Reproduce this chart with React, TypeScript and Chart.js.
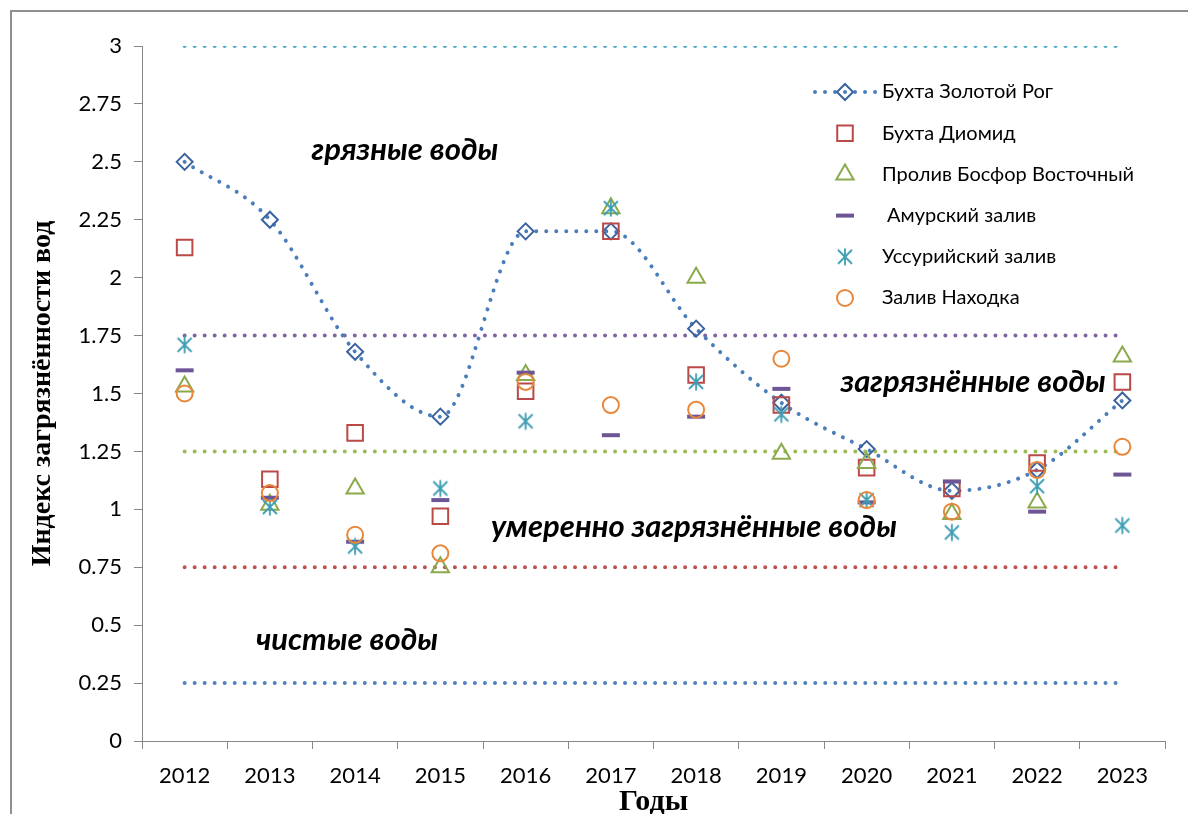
import React, { useEffect, useRef } from 'react';
import { Chart, registerables } from 'chart.js';
import { drawPoint } from 'chart.js/helpers';

Chart.register(...registerables);

// ---------- data ----------
const YEARS = ['2012', '2013', '2014', '2015', '2016', '2017', '2018', '2019', '2020', '2021', '2022', '2023'];
const ZOLOTOY_ROG = [2.5, 2.25, 1.68, 1.4, 2.2, 2.2, 1.78, 1.46, 1.26, 1.08, 1.17, 1.47];
const DIOMID = [2.13, 1.13, 1.33, 0.97, 1.51, 2.2, 1.58, 1.45, 1.18, 1.09, 1.2, 1.55];
const BOSFOR = [1.53, 1.02, 1.09, 0.75, 1.58, 2.3, 2.0, 1.24, 1.2, 0.98, 1.03, 1.66];
const AMUR = [1.6, 1.05, 0.86, 1.04, 1.59, 1.32, 1.4, 1.52, 1.03, 1.12, 0.99, 1.15];
const USSURI = [1.71, 1.01, 0.84, 1.09, 1.38, 2.3, 1.55, 1.41, 1.04, 0.9, 1.1, 0.93];
const NAKHODKA = [1.5, 1.07, 0.89, 0.81, 1.55, 1.45, 1.43, 1.65, 1.04, 0.99, 1.17, 1.27];
const THRESHOLDS = [3, 1.75, 1.25, 0.75, 0.25];
const Y_TICKS = [0, 0.25, 0.5, 0.75, 1, 1.25, 1.5, 1.75, 2, 2.25, 2.5, 2.75, 3];
const SERIES_NAMES = [
  'Бухта Золотой Рог',
  'Бухта Диомид',
  'Пролив Босфор Восточный',
  ' Амурский залив',
  'Уссурийский залив',
  'Залив Находка',
];
const ZONE_LABELS = ['грязные воды', 'загрязнённые воды', 'умеренно загрязнённые воды', 'чистые воды'];

// ---------- styles ----------
const THRESHOLD_COLORS = ['#4BACC6', '#8064A2', '#9BBB59', '#C0504D', '#4F81BD'];
const ZONE_POS = [
  { x: 2.585, y: 2.55 },
  { x: 9.25, y: 1.55 },
  { x: 5.975, y: 0.925 },
  { x: 1.905, y: 0.437 },
];
const DOT_DASH = [0.01, 10];
const TICK_FONT = 'Lato';

function makeAsterisk(color: string): HTMLCanvasElement {
  const c = document.createElement('canvas');
  c.width = 20;
  c.height = 20;
  const g = c.getContext('2d')!;
  g.strokeStyle = color;
  g.lineWidth = 1.8;
  g.lineCap = 'butt';
  g.beginPath();
  g.moveTo(10, 1.5);
  g.lineTo(10, 18.5);
  g.moveTo(3, 3);
  g.lineTo(17, 17);
  g.moveTo(17, 3);
  g.lineTo(3, 17);
  g.stroke();
  return c;
}

const legendPlugin = {
  id: 'customLegend',
  afterDraw(chart: any) {
    const ctx = chart.ctx as CanvasRenderingContext2D;
    const markerX = 845;
    const textX = 882;
    const y0 = 92;
    const step = 41.2;
    ctx.save();
    SERIES_NAMES.forEach((name, i) => {
      const ds = chart.data.datasets[i];
      const y = y0 + i * step;
      if (i === 0) {
        ctx.save();
        ctx.strokeStyle = ds.borderColor;
        ctx.lineWidth = ds.borderWidth;
        ctx.lineCap = 'round';
        ctx.setLineDash(DOT_DASH);
        ctx.beginPath();
        ctx.moveTo(815, y);
        ctx.lineTo(876, y);
        ctx.stroke();
        ctx.restore();
      }
      ctx.save();
      ctx.strokeStyle = ds.pointBorderColor;
      ctx.fillStyle = 'rgba(0,0,0,0)';
      ctx.lineWidth = ds.pointBorderWidth;
      drawPoint(
        ctx,
        { pointStyle: ds.pointStyle, radius: ds.pointRadius, rotation: 0, borderWidth: ds.pointBorderWidth } as any,
        markerX,
        y
      );
      ctx.restore();
      ctx.fillStyle = '#000';
      ctx.font = `20px ${TICK_FONT}`;
      ctx.textAlign = 'left';
      ctx.textBaseline = 'middle';
      ctx.fillText(name, textX, y);
    });
    ctx.restore();
  },
};

const zonePlugin = {
  id: 'zoneLabels',
  afterDatasetsDraw(chart: any) {
    const ctx = chart.ctx as CanvasRenderingContext2D;
    const xs = chart.scales.x;
    const ys = chart.scales.y;
    ctx.save();
    ctx.fillStyle = '#000';
    ctx.font = `italic bold 31px ${TICK_FONT}`;
    ctx.textAlign = 'center';
    ctx.textBaseline = 'middle';
    ZONE_LABELS.forEach((t, i) => {
      const p = ZONE_POS[i];
      ctx.fillText(t, xs.getPixelForValue(p.x), ys.getPixelForValue(p.y));
    });
    ctx.restore();
  },
};

export default function App() {
  const ref = useRef<HTMLCanvasElement | null>(null);

  useEffect(() => {
    document.body.style.margin = '0';
    const canvas = ref.current!;
    const n = SERIES_NAMES.length;
    const asterisk = makeAsterisk('#3C9DB3');

    const thresholdSets = THRESHOLDS.map((v, i) => ({
      label: 'threshold ' + v,
      data: [
        { x: YEARS[0], y: v },
        { x: YEARS[YEARS.length - 1], y: v },
      ],
      borderColor: THRESHOLD_COLORS[i],
      borderWidth: 4,
      borderDash: DOT_DASH,
      borderCapStyle: 'round' as const,
      pointRadius: 0,
      fill: false,
      order: 100,
    }));

    const chart = new Chart(canvas, {
      type: 'line',
      data: {
        labels: YEARS,
        datasets: [
          {
            label: SERIES_NAMES[0],
            data: ZOLOTOY_ROG,
            borderColor: '#4A7EBB',
            borderWidth: 4,
            borderDash: DOT_DASH,
            borderCapStyle: 'round',
            cubicInterpolationMode: 'monotone',
            pointStyle: 'rectRot',
            pointRadius: 8,
            pointBorderWidth: 2,
            pointBorderColor: '#3A63A0',
            pointBackgroundColor: 'rgba(0,0,0,0)',
            order: n - 0,
          },
          {
            label: SERIES_NAMES[1],
            data: DIOMID,
            showLine: false,
            pointStyle: 'rect',
            pointRadius: 11,
            pointBorderWidth: 2,
            pointBorderColor: '#B94A47',
            pointBackgroundColor: 'rgba(0,0,0,0)',
            borderColor: '#B94A47',
            order: n - 1,
          },
          {
            label: SERIES_NAMES[2],
            data: BOSFOR,
            showLine: false,
            pointStyle: 'triangle',
            pointRadius: 10,
            pointBorderWidth: 2,
            pointBorderColor: '#8AAA4C',
            pointBackgroundColor: 'rgba(0,0,0,0)',
            borderColor: '#8AAA4C',
            order: n - 2,
          },
          {
            label: SERIES_NAMES[3],
            data: AMUR,
            showLine: false,
            pointStyle: 'line',
            pointRadius: 9,
            pointBorderWidth: 4,
            pointBorderColor: '#6E5596',
            pointBackgroundColor: 'rgba(0,0,0,0)',
            borderColor: '#6E5596',
            order: n - 3,
          },
          {
            label: SERIES_NAMES[4],
            data: USSURI,
            showLine: false,
            pointStyle: asterisk,
            pointRadius: 9,
            pointBorderWidth: 2,
            pointBorderColor: '#3C9DB3',
            pointBackgroundColor: 'rgba(0,0,0,0)',
            borderColor: '#3C9DB3',
            order: n - 4,
          },
          {
            label: SERIES_NAMES[5],
            data: NAKHODKA,
            showLine: false,
            pointStyle: 'circle',
            pointRadius: 8,
            pointBorderWidth: 2,
            pointBorderColor: '#E8873A',
            pointBackgroundColor: 'rgba(0,0,0,0)',
            borderColor: '#E8873A',
            order: n - 5,
          },
          ...thresholdSets,
        ] as any,
      },
      options: {
        animation: false,
        responsive: false,
        maintainAspectRatio: false,
        layout: { padding: { left: 0, top: 46, right: 23, bottom: 0 } },
        plugins: {
          legend: { display: false },
          tooltip: { enabled: false },
        },
        scales: {
          x: {
            type: 'category',
            offset: true,
            grid: {
              offset: true,
              drawOnChartArea: false,
              drawTicks: true,
              tickLength: 8,
              color: '#868686',
            },
            border: { display: true, color: '#868686', width: 1 },
            ticks: {
              color: '#000',
              font: { family: TICK_FONT, size: 22 },
              padding: 14,
              maxRotation: 0,
              autoSkip: false,
            },
            title: {
              display: true,
              text: 'Годы',
              color: '#000',
              font: { family: 'Liberation Serif', size: 30, weight: 'bold', lineHeight: 1 },
              padding: { top: 0, bottom: -3 },
            },
            afterFit(scale: any) {
              scale.height = 73;
            },
          },
          y: {
            min: 0,
            max: 3,
            afterBuildTicks(scale: any) {
              scale.ticks = Y_TICKS.map((v) => ({ value: v }));
            },
            grid: {
              drawOnChartArea: false,
              drawTicks: true,
              tickLength: 8,
              color: '#868686',
            },
            border: { display: true, color: '#868686', width: 1 },
            ticks: {
              color: '#000',
              font: { family: TICK_FONT, size: 22 },
              padding: 12,
              callback: (v: any) => String(Number(v)),
            },
            title: {
              display: true,
              text: 'Индекс загрязнённости вод',
              color: '#000',
              font: { family: 'Liberation Serif', size: 28, weight: 'bold', lineHeight: 1 },
              padding: { top: 29, bottom: 0 },
            },
            afterFit(scale: any) {
              scale.width = 142;
            },
          },
        },
      },
      plugins: [zonePlugin, legendPlugin],
    });

    return () => chart.destroy();
  }, []);

  return (
    <div style={{ position: 'relative', width: 1188, height: 814, overflow: 'hidden', background: '#fff' }}>
      <canvas ref={ref} width={1188} height={814} style={{ position: 'absolute', left: 0, top: 0 }} />
      <div
        style={{
          position: 'absolute',
          left: 10,
          top: 10,
          width: 1300,
          height: 900,
          borderTop: '2px solid #8f8f8f',
          borderLeft: '2px solid #8f8f8f',
          pointerEvents: 'none',
        }}
      />
    </div>
  );
}
